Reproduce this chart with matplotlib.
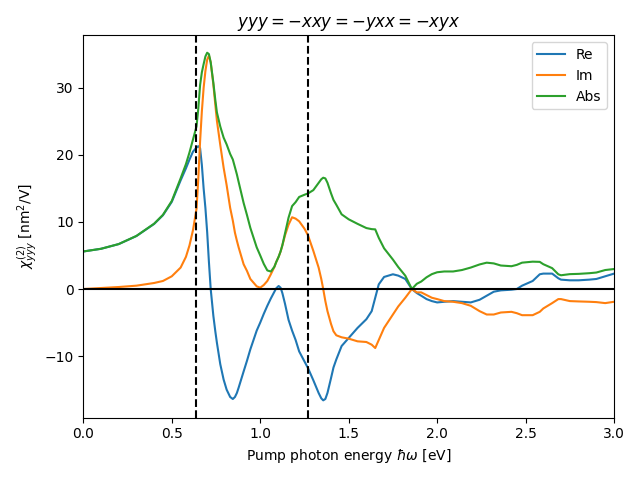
import numpy as np
import matplotlib
matplotlib.use("Agg")
import matplotlib.pyplot as plt

energy = [0.00, 0.10, 0.20, 0.30, 0.40, 0.45, 0.50, 0.55, 0.58, 0.60, 0.62, 0.64, 0.65, 0.66,
          0.67, 0.68, 0.69, 0.70, 0.71, 0.72, 0.735, 0.746, 0.755, 0.774, 0.793, 0.81, 0.83,
          0.845, 0.857, 0.868, 0.878, 0.906, 0.925, 0.944, 0.98, 1.00, 1.02, 1.04, 1.06, 1.08,
          1.09, 1.104, 1.115, 1.125, 1.14, 1.16, 1.18, 1.20, 1.22, 1.25, 1.27, 1.30, 1.33,
          1.345, 1.356, 1.368, 1.38, 1.40, 1.414, 1.43,
          1.46, 1.50, 1.55, 1.60, 1.63, 1.65, 1.67, 1.70, 1.75, 1.78, 1.82, 1.857, 1.885, 1.91,
          1.94, 1.97, 2.00, 2.04, 2.09, 2.14, 2.19, 2.24, 2.28, 2.32, 2.36, 2.42, 2.45, 2.48,
          2.54, 2.58, 2.60, 2.65, 2.685, 2.70, 2.75, 2.80, 2.86, 2.90, 2.95, 3.00]

chi_re = [5.6, 6.0, 6.7, 7.9, 9.7, 11.0, 13.0, 16.2, 18.0, 19.3, 20.5, 21.1, 21.3, 21.0,
          18.5, 15.0, 12.1, 8.5, 4.0, 0.0, -4.0, -6.3, -8.0, -11.2, -13.5, -15.0, -16.1,
          -16.4, -16.1, -15.5, -14.7, -12.3, -10.7, -9.0, -6.2, -5.0, -3.7, -2.5, -1.4, -0.4,
          0.1, 0.45, 0.2, -0.6, -2.2, -4.6, -6.2, -7.6, -9.3, -10.8, -11.8, -13.6, -15.5,
          -16.3, -16.6, -16.4, -15.5, -13.3, -11.7, -10.5,
          -8.5, -7.3, -5.8, -4.5, -3.3, -1.3, 0.7, 1.8, 2.2, 2.0, 1.5, 0.0, -0.6, -1.0,
          -1.5, -1.8, -2.0, -1.9, -1.8, -1.9, -2.0, -1.6, -1.0, -0.4, -0.2, -0.1, 0.0, 0.5,
          1.2, 2.2, 2.3, 2.3, 1.6, 1.4, 1.3, 1.3, 1.4, 1.5, 1.9, 2.3]

chi_im = [0.0, 0.15, 0.3, 0.5, 0.9, 1.2, 1.9, 3.2, 4.8, 6.5, 8.8, 12.0, 16.5, 22.0,
          26.5, 30.0, 32.5, 34.2, 34.8, 33.8, 30.5, 27.5, 25.1, 21.5, 18.1, 15.5, 12.1,
          10.2, 8.4, 7.2, 6.2, 3.7, 2.7, 1.5, 0.4, 0.2, 0.6, 1.2, 2.2, 3.3,
          4.0, 4.8, 5.6, 6.5, 8.0, 9.6, 10.7, 10.5, 10.1, 9.0, 8.0, 5.7, 3.2,
          1.5, 0.0, -1.8, -3.3, -5.2, -6.3, -6.9,
          -7.2, -7.4, -7.8, -7.9, -8.3, -8.8, -7.6, -5.8, -3.8, -2.6, -1.3, 0.0, -0.5, -0.5,
          -0.9, -1.3, -1.5, -1.8, -1.9, -2.1, -2.5, -3.3, -3.8, -3.8, -3.5, -3.4, -3.6, -3.9,
          -3.9, -3.4, -2.9, -2.1, -1.5, -1.5, -1.8, -1.85, -1.9, -1.95, -2.1, -1.9]

gap_lines = [0.636, 1.272]

energy = np.array(energy)
chi_re = np.array(chi_re)
chi_im = np.array(chi_im)
chi_abs = np.hypot(chi_re, chi_im)

fig, ax = plt.subplots(figsize=(6.4, 4.8), dpi=100)
ax.plot(energy, chi_re, label="Re")
ax.plot(energy, chi_im, label="Im")
ax.plot(energy, chi_abs, label="Abs")
ax.axhline(0, color="black")
for xv in gap_lines:
    ax.axvline(xv, color="black", linestyle="--")
ax.set_xlim(0, 3)
ax.set_title(r"$yyy=-xxy=-yxx=-xyx$")
ax.set_xlabel(r"Pump photon energy $\hbar\omega$ [eV]")
ax.set_ylabel(r"$\chi^{(2)}_{yyy}$ [nm$^2$/V]")
ax.legend(loc="upper right")
fig.tight_layout()
fig.savefig("out.png")
